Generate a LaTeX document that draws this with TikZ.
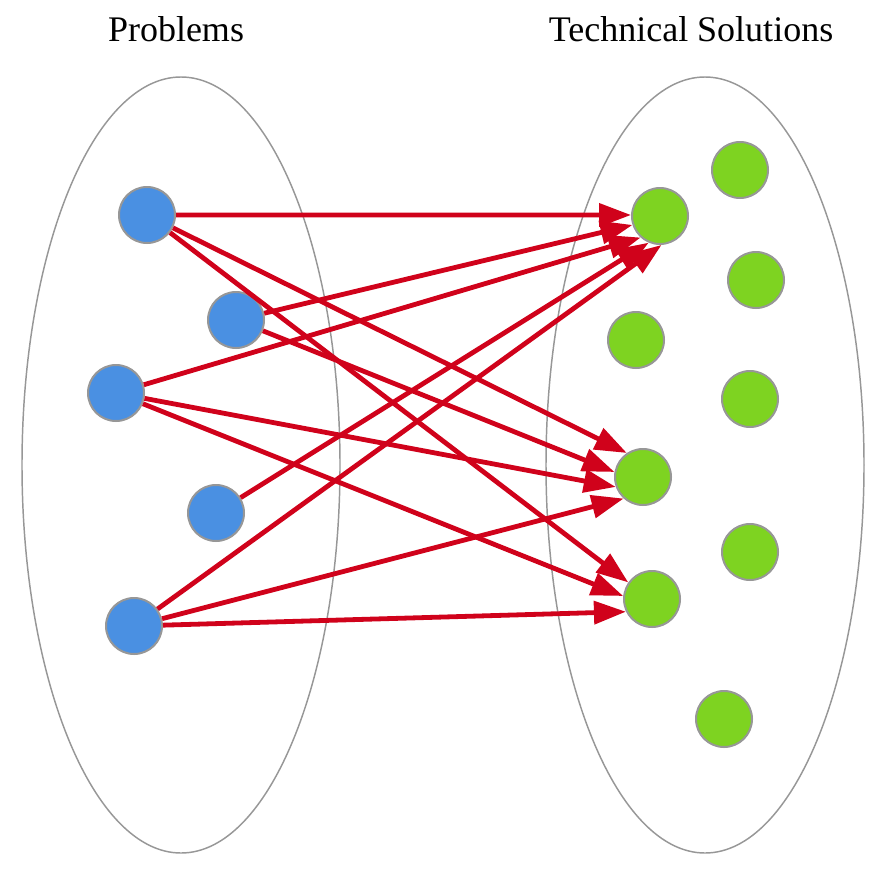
\documentclass[tikz,border=0pt]{standalone}
\usepackage{fontspec}
\setmainfont{Liberation Serif}
\usepackage{tikz}
\usetikzlibrary{arrows.meta}

\definecolor{probblue}{HTML}{4A90E2}
\definecolor{solgreen}{HTML}{7ED321}
\definecolor{linkred}{HTML}{D0021B}
\definecolor{rimgray}{HTML}{979797}

\begin{document}
\begin{tikzpicture}[x=0.75pt,y=-0.75pt,
  prob/.style={circle,draw=rimgray,line width=1.5pt,fill=probblue,minimum size=42pt,inner sep=0pt},
  sol/.style={circle,draw=rimgray,line width=1.5pt,fill=solgreen,minimum size=42pt,inner sep=0pt},
  link/.style={draw=linkred,line width=3.6pt,-{Triangle[length=24pt,width=17pt]}},
  title/.style={anchor=base,font=\fontsize{27}{32}\selectfont}]
\useasboundingbox (0,0) rectangle (880,874);

% 集合
\draw[rimgray,line width=1.1pt] (181,465) ellipse (159 and 388);
\draw[rimgray,line width=1.1pt] (705,465) ellipse (159 and 388);
\node[title] (probtitle) at (176,42) {Problems};
\node[title] (soltitle) at (691,42) {Technical Solutions};

% 問題
\foreach \n/\x/\y in {p1/147/215,p2/236/320,p3/116/393,p4/216/513,p5/134/626}
  \node[prob] (\n) at (\x,\y) {};

% 解決策
\foreach \n/\x/\y in {s1/660/216,s2/740/170,s3/756/280,s4/636/340,s5/750/399,
                      s6/643/477,s7/750/552,s8/652/599,s9/724/719}
  \node[sol] (\n) at (\x,\y) {};

% 対応
\foreach \a/\b in {p1/s1.178,p2/s1.198,p3/s1.228,p4/s1.247,p5/s1.273,
                   p1/s6.124,p2/s6.170,p3/s6.200,p5/s6.228,
                   p1/s8.145,p3/s8.174,p5/s8.206}
  \draw[link] (\a) -- (\b);
\end{tikzpicture}
\end{document}
